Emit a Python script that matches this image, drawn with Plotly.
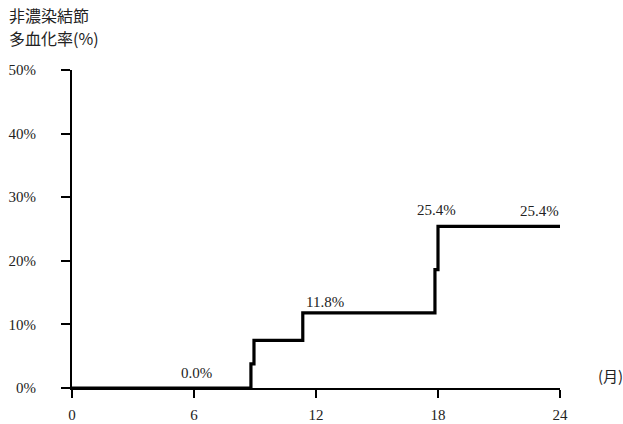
import plotly.graph_objects as go

# Data (months, cumulative rate %)
months = [0, 8.8, 8.95, 11.35, 17.85, 18.0, 24]
rates = [0, 3.8, 7.5, 11.8, 18.6, 25.4, 25.4]

x_ticks = [0, 6, 12, 18, 24]
y_ticks = [0, 10, 20, 30, 40, 50]
y_tick_labels = ["0%", "10%", "20%", "30%", "40%", "50%"]

# Value labels: (x position in months, value)
label_x = [6.1, 12.45, 17.95, 23.0]
label_vals = [0.0, 11.8, 25.4, 25.4]
label_shift = [5, 1, 6, 5]

serif = "Liberation Serif, Times New Roman, serif"
cjk = "Noto Sans CJK JP, sans-serif"

fig = go.Figure()
fig.add_trace(go.Scatter(
    x=months, y=rates, mode="lines", line=dict(shape="hv", color="black", width=3.2),
    hoverinfo="skip", showlegend=False, cliponaxis=False,
))

for lx, lv, ls in zip(label_x, label_vals, label_shift):
    fig.add_annotation(x=lx, y=lv, text=f"{lv:.1f}%", showarrow=False,
                       yanchor="bottom", yshift=ls,
                       font=dict(family=serif, size=15, color="#222"))

fig.add_annotation(xref="paper", yref="paper", x=1.074, y=0.038, text="(月)",
                   showarrow=False, xanchor="left", yanchor="middle",
                   font=dict(family=cjk, size=15, color="#222"))
fig.add_annotation(xref="paper", yref="paper", x=-0.133, y=1.173,
                   text="非濃染結節", showarrow=False,
                   xanchor="left", yanchor="middle",
                   font=dict(family=cjk, size=16, color="#222"))
fig.add_annotation(xref="paper", yref="paper", x=-0.133, y=1.1006,
                   text="多血化率(%)", showarrow=False,
                   xanchor="left", yanchor="middle",
                   font=dict(family=cjk, size=16, color="#222"))

fig.update_layout(
    width=623, height=424,
    margin=dict(l=72, r=63, t=70, b=36, autoexpand=False),
    paper_bgcolor="white", plot_bgcolor="white",
    xaxis=dict(range=[0, 24], tickvals=x_ticks, ticktext=[str(v) for v in x_ticks],
               showgrid=False, zeroline=False, showline=True, linecolor="black",
               linewidth=2, ticks="outside", ticklen=8, tickwidth=2, tickcolor="black",
               tickfont=dict(family=serif, size=15, color="#222"), ticklabelstandoff=4),
    yaxis=dict(range=[0, 50], tickvals=y_ticks, ticktext=y_tick_labels,
               showgrid=False, zeroline=False, showline=True, linecolor="black",
               linewidth=2, ticks="outside", ticklen=9, tickwidth=2, tickcolor="black",
               tickfont=dict(family=serif, size=15, color="#222"), ticklabelstandoff=22),
)

fig.write_html("out.html", config={"displayModeBar": False},
               post_script="document.body.style.margin='0';document.body.style.overflow='hidden';")
